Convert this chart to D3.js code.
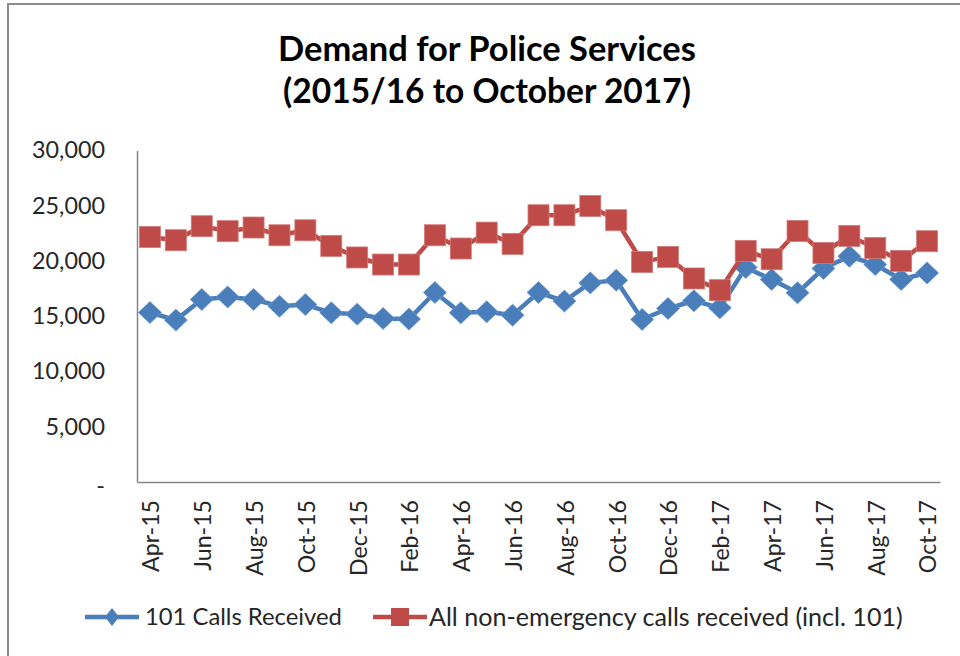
<!DOCTYPE html>
<html><head><meta charset="utf-8">
<script src="https://cdn.jsdelivr.net/npm/d3@7"></script>
<style>
html,body{margin:0;padding:0;background:#fff;}
svg text{font-family:Lato,"Open Sans",sans-serif;}
</style></head>
<body>
<svg id="chart" width="960" height="656"></svg>
<script>
const months = ["Apr-15","May-15","Jun-15","Jul-15","Aug-15","Sep-15","Oct-15","Nov-15","Dec-15","Jan-16","Feb-16","Mar-16","Apr-16","May-16","Jun-16","Jul-16","Aug-16","Sep-16","Oct-16","Nov-16","Dec-16","Jan-17","Feb-17","Mar-17","Apr-17","May-17","Jun-17","Jul-17","Aug-17","Sep-17","Oct-17"];
const calls101 = [15340,14650,16520,16750,16520,15910,16060,15310,15190,14800,14740,17150,15310,15400,15100,17150,16370,18020,18260,14710,15700,16400,15760,19410,18330,17120,19320,20430,19680,18330,18920];
const allCalls = [22180,21880,23150,22700,23030,22330,22780,21370,20320,19680,19680,22330,21130,22570,21550,24140,24140,24980,23690,19920,20370,18420,17360,20910,20160,22720,20730,22270,21180,20010,21790];
const yTicks = [0,5000,10000,15000,20000,25000,30000];
const titleLines = ["Demand for Police Services","(2015/16 to October 2017)"];
const seriesNames = ["101 Calls Received","All non-emergency calls received (incl. 101)"];

const blue = "#4a7ebb", red = "#be4b48";
const svg = d3.select("#chart");

// outer chart border
svg.append("rect").attr("x",8).attr("y",4).attr("width",1000).attr("height",700)
  .attr("fill","none").attr("stroke","#8c8c8c").attr("stroke-width",2);

function fitText(sel, target){
  const w = sel.node().getComputedTextLength();
  const fs = parseFloat(sel.attr("font-size"));
  sel.attr("font-size", fs*target/w);
}
function fitGroup(sel, refNode, target){
  const w = refNode.getComputedTextLength();
  const fs = parseFloat(d3.select(refNode).attr("font-size"));
  sel.attr("font-size", fs*target/w);
}

// title
const t1 = svg.append("text").attr("x",487).attr("y",61).attr("text-anchor","middle")
  .attr("font-size",28).attr("font-weight","bold").attr("fill","#000").text(titleLines[0]);
fitText(t1,418);
const t2 = svg.append("text").attr("x",487).attr("y",103).attr("text-anchor","middle")
  .attr("font-size",28).attr("font-weight","bold").attr("fill","#000").text(titleLines[1]);
fitText(t2,408);

const x = d3.scaleBand().domain(months).range([137,940]).padding(0);
const y = d3.scaleLinear().domain([0,30000]).range([482,150.5]);
const cx = m => x(m) + x.bandwidth()/2;

// y axis
const yAxis = svg.append("g").attr("transform","translate(137,0)")
  .call(d3.axisLeft(y).tickValues(yTicks).tickSize(0).tickPadding(32)
    .tickFormat(d => d===0 ? "-" : d3.format(",")(d)));
yAxis.select(".domain").attr("stroke","#868686").attr("stroke-width",1.5);
const yTexts = yAxis.selectAll("text").attr("font-size",20.5).attr("fill","#262626")
  .attr("font-family","Lato,'Open Sans',sans-serif");
fitGroup(yTexts, yTexts.filter(d=>d===30000).node(), 73);
yAxis.selectAll(".tick").filter(d=>d===0).select("text").attr("dy","0.5em");

// x axis
const xAxis = svg.append("g").attr("transform","translate(0,482)")
  .call(d3.axisBottom(x).tickValues(months.filter((m,i)=>i%2===0)).tickSize(0).tickPadding(0));
xAxis.select(".domain").attr("stroke","#868686").attr("stroke-width",1.5);
const xTexts = xAxis.selectAll("text").attr("font-size",20.5).attr("fill","#262626")
  .attr("font-family","Lato,'Open Sans',sans-serif")
  .attr("text-anchor","end").attr("transform","translate(1,18) rotate(-90)")
  .attr("x",0).attr("y",0).attr("dy","0.36em");
fitGroup(xTexts, xTexts.filter(d=>d==="Apr-15").node(), 72);

const line = d3.line().x((d,i)=>cx(months[i])).y(d=>y(d));

// blue series
svg.append("path").datum(calls101).attr("d",line).attr("fill","none")
  .attr("stroke",blue).attr("stroke-width",4.5).attr("stroke-linejoin","round");
const diamond = (w,h) => `M0,${-h}L${w},0L0,${h}L${-w},0Z`;
svg.append("g").selectAll("path").data(calls101).join("path")
  .attr("transform",(d,i)=>`translate(${cx(months[i])},${y(d)})`)
  .attr("d",diamond(11.5,11)).attr("fill",blue).attr("stroke","#6f98cc").attr("stroke-width",0.8);

// red series
svg.append("path").datum(allCalls).attr("d",line).attr("fill","none")
  .attr("stroke",red).attr("stroke-width",4.5).attr("stroke-linejoin","round");
svg.append("g").selectAll("rect").data(allCalls).join("rect")
  .attr("x",(d,i)=>cx(months[i])-10.5).attr("y",d=>y(d)-10.5)
  .attr("width",21).attr("height",21).attr("fill",red).attr("stroke","#d27a77").attr("stroke-width",0.8);

// legend
const ly = 617;
const lg = svg.append("g");
lg.append("line").attr("x1",85).attr("x2",139).attr("y1",ly).attr("y2",ly).attr("stroke",blue).attr("stroke-width",4.5);
lg.append("path").attr("transform",`translate(112,${ly})`).attr("d",diamond(7,9)).attr("fill",blue);
const lt1 = lg.append("text").attr("x",145).attr("y",ly).attr("dy","0.35em").attr("font-size",20.5)
  .attr("fill","#262626").text(seriesNames[0]);
fitText(lt1,197);
lg.append("line").attr("x1",373).attr("x2",427).attr("y1",ly).attr("y2",ly).attr("stroke",red).attr("stroke-width",4.5);
lg.append("rect").attr("x",391).attr("y",ly-9).attr("width",18).attr("height",18).attr("fill",red);
const lt2 = lg.append("text").attr("x",429).attr("y",ly).attr("dy","0.35em").attr("font-size",20.5)
  .attr("fill","#262626").text(seriesNames[1]);
fitText(lt2,474);
</script>
</body></html>
